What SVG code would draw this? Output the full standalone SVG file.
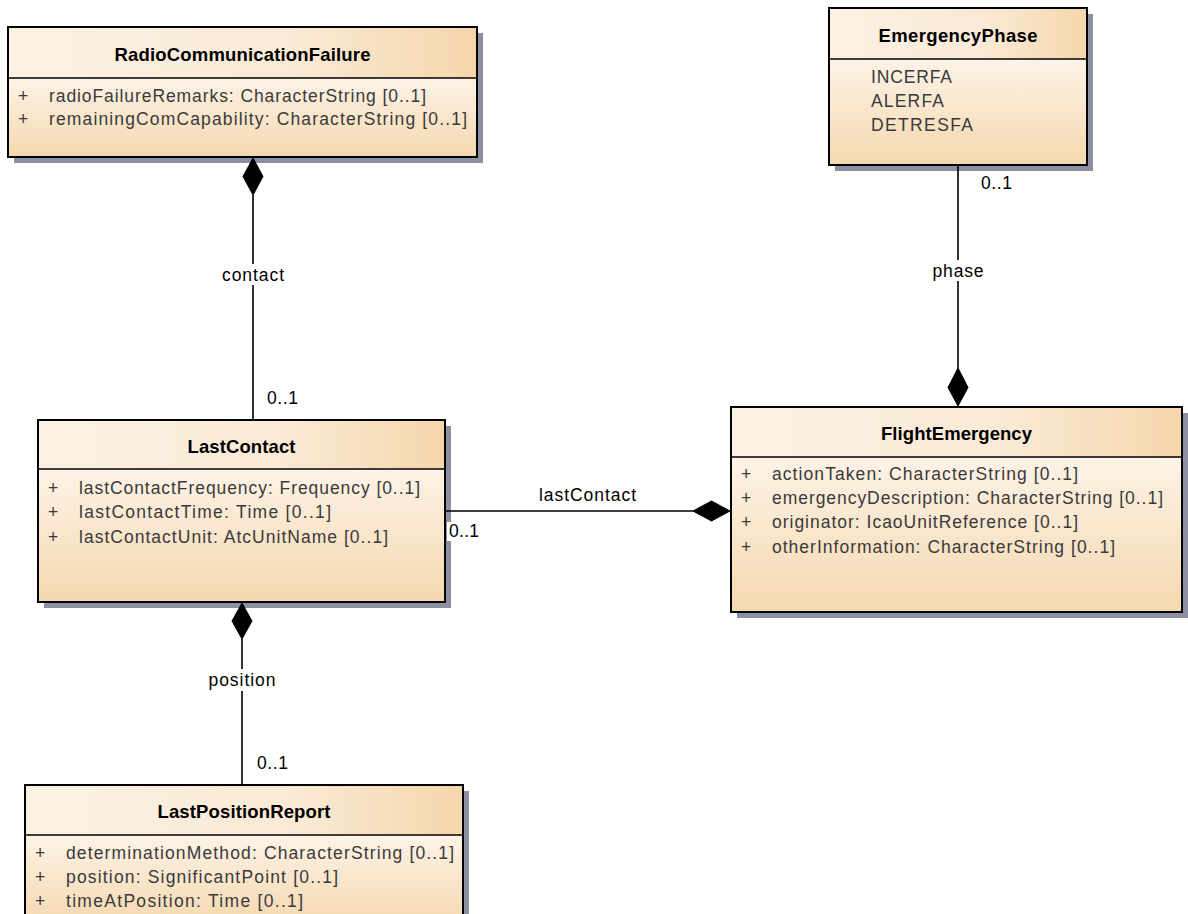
<svg xmlns="http://www.w3.org/2000/svg" width="1188" height="914" viewBox="0 0 1188 914">
<defs>
<linearGradient id="hdr" x1="0" y1="0" x2="1" y2="0">
<stop offset="0" stop-color="#fcf1e4"/>
<stop offset="0.6" stop-color="#faead6"/>
<stop offset="1" stop-color="#f5d6ab"/>
</linearGradient>
<linearGradient id="body" x1="0" y1="0" x2="0" y2="1">
<stop offset="0" stop-color="#fdf3e7"/>
<stop offset="1" stop-color="#f5d8af"/>
</linearGradient>
</defs>
<style>
.shadow{fill:#8c90a0}
.frame{fill:none;stroke:#000;stroke-width:2}
.div{stroke:#000;stroke-width:1.5}
.title{font-family:"Liberation Sans",Arial,sans-serif;font-size:18.5px;font-weight:bold;fill:#000;text-anchor:middle}
.attr{font-family:"Liberation Sans",Arial,sans-serif;font-size:17.5px;fill:#3a3a3a}
.lbl{font-family:"Liberation Sans",Arial,sans-serif;font-size:17.5px;fill:#000}
.lblc{font-family:"Liberation Sans",Arial,sans-serif;font-size:17.5px;fill:#000;text-anchor:middle}
.line{stroke:#000;stroke-width:1.6;fill:none}
.dia{fill:#000;stroke:#000;stroke-width:1}
.bg{fill:#fff}
</style>
<rect width="1188" height="914" fill="#fff"/>

<g id="RadioCommunicationFailure">
<rect class="shadow" x="14" y="33" width="469" height="130"/>
<rect x="8" y="27" width="469" height="51" fill="url(#hdr)"/>
<rect x="8" y="78" width="469" height="79" fill="url(#body)"/>
<line class="div" x1="8" y1="78" x2="477" y2="78"/>
<rect class="frame" x="8" y="27" width="469" height="130"/>
<text class="title" x="242.5" y="61" textLength="256" lengthAdjust="spacing">RadioCommunicationFailure</text>
<text class="attr" x="18" y="102">+</text>
<text class="attr" x="49" y="102" textLength="377" lengthAdjust="spacing">radioFailureRemarks: CharacterString [0..1]</text>
<text class="attr" x="18" y="125">+</text>
<text class="attr" x="49" y="125" textLength="418" lengthAdjust="spacing">remainingComCapability: CharacterString [0..1]</text>
</g>

<g id="EmergencyPhase">
<rect class="shadow" x="835" y="14" width="258" height="157"/>
<rect x="829" y="8" width="258" height="51" fill="url(#hdr)"/>
<rect x="829" y="59" width="258" height="106" fill="url(#body)"/>
<line class="div" x1="829" y1="59" x2="1087" y2="59"/>
<rect class="frame" x="829" y="8" width="258" height="157"/>
<text class="title" x="958" y="42" textLength="159" lengthAdjust="spacing">EmergencyPhase</text>
<text class="attr" x="871" y="83" textLength="81" lengthAdjust="spacing">INCERFA</text>
<text class="attr" x="871" y="107" textLength="73" lengthAdjust="spacing">ALERFA</text>
<text class="attr" x="871" y="131" textLength="102" lengthAdjust="spacing">DETRESFA</text>
</g>

<g id="LastContact">
<rect class="shadow" x="44" y="426" width="407" height="182"/>
<rect x="38" y="420" width="407" height="49" fill="url(#hdr)"/>
<rect x="38" y="469" width="407" height="133" fill="url(#body)"/>
<line class="div" x1="38" y1="469" x2="445" y2="469"/>
<rect class="frame" x="38" y="420" width="407" height="182"/>
<text class="title" x="241.5" y="453" textLength="108" lengthAdjust="spacing">LastContact</text>
<text class="attr" x="48" y="494">+</text>
<text class="attr" x="79" y="494" textLength="341" lengthAdjust="spacing">lastContactFrequency: Frequency [0..1]</text>
<text class="attr" x="48" y="518">+</text>
<text class="attr" x="79" y="518" textLength="252" lengthAdjust="spacing">lastContactTime: Time [0..1]</text>
<text class="attr" x="48" y="543">+</text>
<text class="attr" x="79" y="543" textLength="309" lengthAdjust="spacing">lastContactUnit: AtcUnitName [0..1]</text>
</g>

<g id="FlightEmergency">
<rect class="shadow" x="737" y="413" width="451" height="205"/>
<rect x="731" y="407" width="451" height="50" fill="url(#hdr)"/>
<rect x="731" y="457" width="451" height="155" fill="url(#body)"/>
<line class="div" x1="731" y1="457" x2="1182" y2="457"/>
<rect class="frame" x="731" y="407" width="451" height="205"/>
<text class="title" x="956.5" y="440" textLength="151" lengthAdjust="spacing">FlightEmergency</text>
<text class="attr" x="741" y="480">+</text>
<text class="attr" x="772" y="480" textLength="306" lengthAdjust="spacing">actionTaken: CharacterString [0..1]</text>
<text class="attr" x="741" y="504">+</text>
<text class="attr" x="772" y="504" textLength="391" lengthAdjust="spacing">emergencyDescription: CharacterString [0..1]</text>
<text class="attr" x="741" y="528">+</text>
<text class="attr" x="772" y="528" textLength="306" lengthAdjust="spacing">originator: IcaoUnitReference [0..1]</text>
<text class="attr" x="741" y="553">+</text>
<text class="attr" x="772" y="553" textLength="343" lengthAdjust="spacing">otherInformation: CharacterString [0..1]</text>
</g>

<g id="LastPositionReport">
<rect class="shadow" x="31" y="791" width="438" height="140"/>
<rect x="25" y="785" width="438" height="50" fill="url(#hdr)"/>
<rect x="25" y="835" width="438" height="90" fill="url(#body)"/>
<line class="div" x1="25" y1="835" x2="463" y2="835"/>
<rect class="frame" x="25" y="785" width="438" height="140"/>
<text class="title" x="244" y="818" textLength="173" lengthAdjust="spacing">LastPositionReport</text>
<text class="attr" x="35" y="859">+</text>
<text class="attr" x="66" y="859" textLength="388" lengthAdjust="spacing">determinationMethod: CharacterString [0..1]</text>
<text class="attr" x="35" y="883">+</text>
<text class="attr" x="66" y="883" textLength="272" lengthAdjust="spacing">position: SignificantPoint [0..1]</text>
<text class="attr" x="35" y="907">+</text>
<text class="attr" x="66" y="907" textLength="237" lengthAdjust="spacing">timeAtPosition: Time [0..1]</text>
</g>

<g id="connectors">
<!-- RadioCommunicationFailure - LastContact -->
<line class="line" x1="253" y1="195" x2="253" y2="420"/>
<polygon class="dia" points="253,158 263,176.5 253,195 243,176.5"/>
<rect class="bg" x="220" y="264" width="66" height="21"/>
<text class="lblc" x="253" y="281" textLength="62" lengthAdjust="spacing">contact</text>
<text class="lbl" x="267" y="404" textLength="31" lengthAdjust="spacing">0..1</text>

<!-- EmergencyPhase - FlightEmergency -->
<line class="line" x1="958" y1="165" x2="958" y2="369"/>
<polygon class="dia" points="958,368 968,387.5 958,406 948,387.5"/>
<rect class="bg" x="930" y="260" width="56" height="21"/>
<text class="lblc" x="958" y="277" textLength="51" lengthAdjust="spacing">phase</text>
<text class="lbl" x="981" y="189" textLength="31" lengthAdjust="spacing">0..1</text>

<!-- LastContact - FlightEmergency -->
<line class="line" x1="445" y1="511" x2="694" y2="511"/>
<polygon class="dia" points="730,511 711.5,521 693,511 711.5,501"/>
<text class="lblc" x="587.5" y="501" textLength="97" lengthAdjust="spacing">lastContact</text>
<rect class="bg" x="447" y="522" width="34" height="19"/>
<text class="lbl" x="449" y="537" textLength="30" lengthAdjust="spacing">0..1</text>

<!-- LastContact - LastPositionReport -->
<line class="line" x1="242" y1="639" x2="242" y2="785"/>
<polygon class="dia" points="242,603 252,621 242,639 232,621"/>
<rect class="bg" x="206" y="669" width="72" height="22"/>
<text class="lblc" x="242" y="686" textLength="67" lengthAdjust="spacing">position</text>
<text class="lbl" x="257" y="769" textLength="31" lengthAdjust="spacing">0..1</text>
</g>
</svg>
